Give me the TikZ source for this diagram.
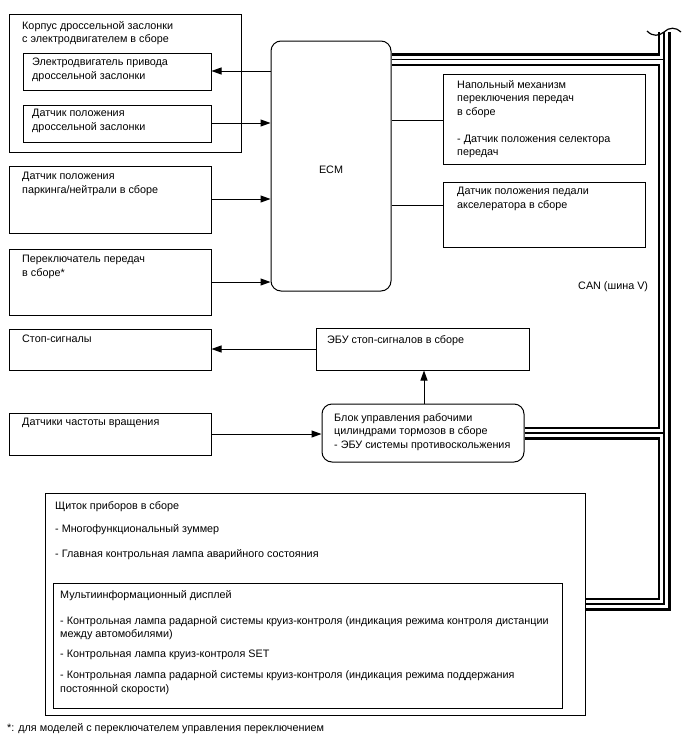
\documentclass[tikz,border=0pt]{standalone}
\usepackage{fontspec}
\setmainfont{Liberation Sans}
\usetikzlibrary{arrows.meta,fit,calc}
\pgfdeclarelayer{bg}
\pgfsetlayers{bg,main}
\begin{document}
\begin{tikzpicture}[x=1pt,y=-1pt,
 box/.style={draw, line width=1pt, inner sep=0pt},
 rbox/.style={box, rounded corners=10pt},
 txt/.style={anchor=north west, inner sep=0pt, align=left, font=\fontsize{10.8}{13.5}\selectfont},
 arr/.style={line width=1pt, -{Triangle[length=10pt,width=7pt]}},
 ln/.style={line width=1pt}]
\useasboundingbox (0,0) rectangle (688,755);
% throttle body
\node[box, fit={(9,14) (241,152)}] (tb) {};
\node[txt] (tbt) at (22,21) {Корпус дроссельной заслонки\\с электродвигателем в сборе};
\node[box, fit={(23,53) (211,90)}] (mot) {};
\node[txt] (mott) at (32,58) {Электродвигатель привода\\дроссельной заслонки};
\node[box, fit={(23,105) (211,142)}] (tps) {};
\node[txt] (tpst) at (32,109) {Датчик положения\\дроссельной заслонки};
% ECM
\node[rbox, fit={(271,41) (391,291)}] (ecm) {};
\node[inner sep=0pt, font=\fontsize{10.8}{13.5}\selectfont] (ecmt) at (331,170) {ECM};
% left column
\node[box, fit={(9,166) (211,233)}] (pn) {};
\node[txt] (pnt) at (22,172) {Датчик положения\\паркинга/нейтрали в сборе};
\node[box, fit={(9,249) (211,315)}] (gs) {};
\node[txt] (gst) at (22,255) {Переключатель передач\\в сборе*};
\node[box, fit={(9,329) (211,370)}] (st) {};
\node[txt] (stt) at (22,335) {Стоп-сигналы};
\node[box, fit={(9,413) (211,455)}] (ss) {};
\node[txt] (sst) at (22,418) {Датчики частоты вращения};
% middle
\node[box, fit={(316,328) (529,370)}] (ebu) {};
\node[txt] (ebut) at (327,335) {ЭБУ стоп-сигналов в сборе};
\node[rbox, fit={(322,404) (524,462)}] (bc) {};
\node[txt] (bct) at (334,413) {Блок управления рабочими\\цилиндрами тормозов в сборе\\- ЭБУ системы противоскольжения};
% right column
\node[box, fit={(443,74) (645,164)}] (fs) {};
\node[txt] (fst) at (457,80) {Напольный механизм\\переключения передач\\в сборе\\[13.5pt]- Датчик положения селектора\\передач};
\node[box, fit={(443,182) (645,247)}] (ap) {};
\node[txt] (apt) at (457,187) {Датчик положения педали\\акселератора в сборе};
\node[txt] (can) at (578,281) {CAN (шина V)};
% instrument cluster
\node[box, fit={(45,493) (585,715)}] (ic) {};
\node[txt] (ict) at (55,501) {Щиток приборов в сборе\\[10pt]- Многофункциональный зуммер\\[11pt]- Главная контрольная лампа аварийного состояния};
\node[box, fit={(53,583) (562,708)}] (mi) {};
\node[txt] (mit) at (60,590) {Мультиинформационный дисплей\\[12.5pt]- Контрольная лампа радарной системы круиз-контроля (индикация режима контроля дистанции\\между автомобилями)\\[6.5pt]- Контрольная лампа круиз-контроля SET\\[7.5pt]- Контрольная лампа радарной системы круиз-контроля (индикация режима поддержания\\постоянной скорости)};
\node[txt] (fn) at (7,723) {*: для моделей с переключателем управления переключением};
% connectors
\draw[arr] (ecm.west |- 0,71) -- (mot.east |- 0,71);
\draw[arr] (tps.east |- 0,123) -- (ecm.west |- 0,123);
\draw[arr] (pn.east |- 0,199) -- (ecm.west |- 0,199);
\draw[arr] (gs.east |- 0,282) -- (ecm.west |- 0,282);
\draw[ln] (fs.west |- 0,120) -- (ecm.east |- 0,120);
\draw[ln] (ap.west |- 0,205) -- (ecm.east |- 0,205);
\draw[arr] (ebu.west |- 0,349) -- (st.east |- 0,349);
\draw[arr] (bc.north -| 424,0) -- (ebu.south -| 424,0);
\draw[arr] (ss.east |- 0,434) -- (bc.west |- 0,434);
% CAN bus
\coordinate (bustop) at (664,32);
\coordinate (busbot) at (664,604);
\begin{pgfonlayer}{bg}
\foreach \w/\c in {13pt/black, 8pt/white, 1.4pt/black}{
  \draw[line width=\w, \c] (ecm.east |- 0,59.5) -- (bustop |- 0,59.5)
     (bustop) -- (busbot) -- (ic.east |- busbot)
     (bc.east |- 0,433) -- (bustop |- 0,433);
}
\end{pgfonlayer}
\draw[line width=1.2pt] (647,31) .. controls (653,37) and (659,36) .. (664,32) .. controls (669,27) and (676,27) .. (681,32);
\end{tikzpicture}
\end{document}
